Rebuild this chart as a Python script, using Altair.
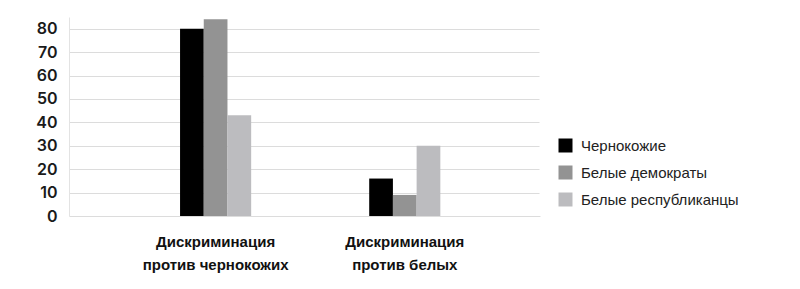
import altair as alt
import pandas as pd

categories = ["Дискриминация против чернокожих", "Дискриминация против белых"]
groups = ["Чернокожие", "Белые демократы", "Белые республиканцы"]
colors = ["#000000", "#939393", "#bcbcbf"]
values_black = [80, 16]
values_dem = [84, 9]
values_rep = [43, 30]
y_ticks = [0, 10, 20, 30, 40, 50, 60, 70, 80]

rows = []
for i, c in enumerate(categories):
    for g, vals in zip(groups, [values_black, values_dem, values_rep]):
        rows.append({"category": c, "group": g, "value": vals[i]})
df = pd.DataFrame(rows)

bars = alt.Chart(df).mark_bar().encode(
    x=alt.X(
        "category:N",
        sort=categories,
        title=None,
        scale=alt.Scale(paddingInner=0.624, paddingOuter=0.557, align=0.527),
        axis=alt.Axis(
            labelAngle=0,
            domain=False,
            ticks=False,
            grid=False,
            labelFont="Liberation Sans",
            labelFontWeight="bold",
            labelFontSize=15,
            labelColor="#111111",
            labelLineHeight=23,
            labelPadding=18,
            labelBaseline="top",
            labelExpr="[slice(datum.label, 0, indexof(datum.label, ' ')), slice(datum.label, indexof(datum.label, ' ') + 1)]",
        ),
    ),
    xOffset=alt.XOffset("group:N", sort=groups, scale=alt.Scale(paddingInner=0, paddingOuter=0)),
    y=alt.Y(
        "value:Q",
        title=None,
        scale=alt.Scale(domain=[0, 85], nice=False),
        axis=alt.Axis(
            values=y_ticks,
            ticks=False,
            domain=True,
            domainColor="#e3e3e3",
            gridColor="#dcdcdc",
            labelFont="Inter",
            labelFontWeight=600,
            labelFontSize=16,
            labelColor="#1a1a1a",
            labelPadding=12,
        ),
    ),
    color=alt.Color(
        "group:N",
        sort=groups,
        scale=alt.Scale(domain=groups, range=colors),
        legend=alt.Legend(
            title=None,
            orient="none",
            legendX=489,
            legendY=121,
            direction="vertical",
            symbolType="square",
            symbolSize=196,
            symbolStrokeWidth=0,
            labelFont="Liberation Sans",
            labelFontSize=15,
            labelColor="#222222",
            labelOffset=8,
            rowPadding=11,
            padding=0,
        ),
    ),
)

# white rules masking the top and right edges of the view frame
mask_top = alt.Chart(pd.DataFrame({"k": [0]})).mark_rule(color="white", strokeWidth=3).encode(
    x=alt.value(2), x2=alt.value(474), y=alt.value(0)
)
mask_right = alt.Chart(pd.DataFrame({"k": [0]})).mark_rule(color="white", strokeWidth=3).encode(
    x=alt.value(472), y=alt.value(-2), y2=alt.value(195)
)

chart = alt.layer(bars, mask_top, mask_right).properties(
    width=471,
    height=199,
    autosize=alt.AutoSizeParams(type="none"),
    padding={"left": 69, "top": 17, "right": 260, "bottom": 73},
    background="white",
    view=alt.ViewBackground(strokeWidth=0, strokeOpacity=0),
).configure_view(strokeWidth=0, strokeOpacity=0)

chart.save("out.html", embed_options={"renderer": "svg", "actions": False})
